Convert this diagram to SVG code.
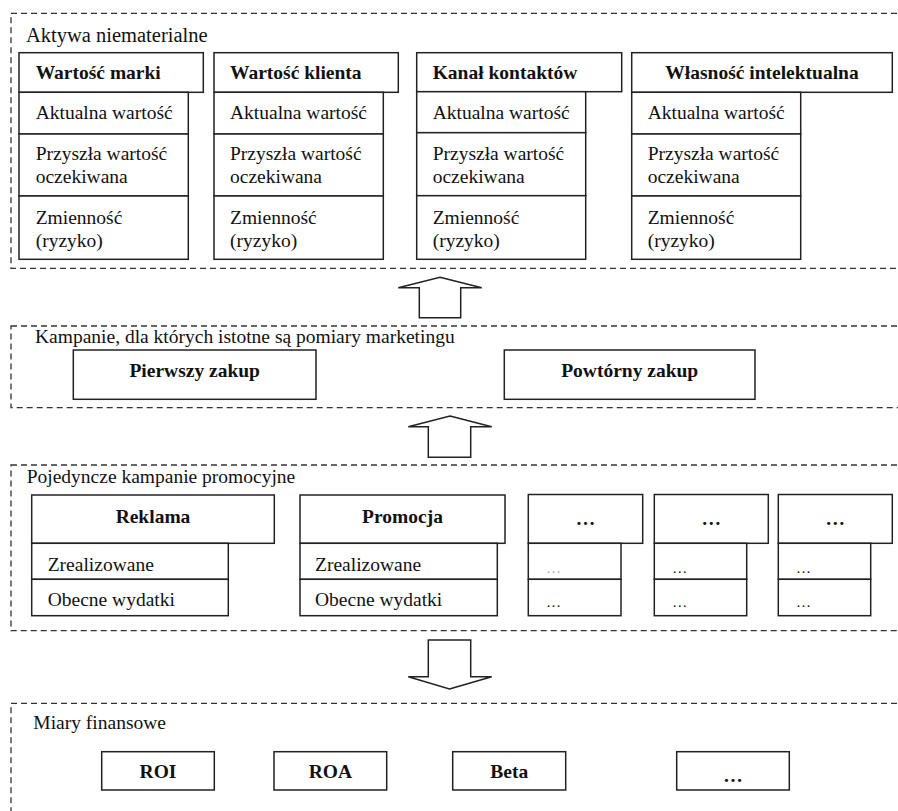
<svg xmlns="http://www.w3.org/2000/svg" width="898" height="811" viewBox="0 0 898 811">
<style>
text{font-family:"Liberation Serif","Times New Roman",serif;font-size:19.5px;fill:#111}
.b{font-weight:bold}
.c{text-anchor:middle}
.sec{fill:none;stroke:#333;stroke-width:1.3;stroke-dasharray:6 4}
.box{fill:#fff;stroke:#222;stroke-width:1.5}
.arr{fill:#fff;stroke:#222;stroke-width:1.5;stroke-linejoin:miter}
.sm{font-size:15px}
</style>
<rect width="898" height="811" fill="#fff"/>

<!-- Sections -->
<g id="sec-aktywa">
<rect class="sec" x="11" y="13.3" width="900" height="255"/>
<text x="26" y="42" style="font-size:20.5px">Aktywa niematerialne</text>
</g>
<g id="sec-kampanie">
<rect class="sec" x="11" y="326" width="900" height="81.7"/>
<text x="35" y="342.7">Kampanie, dla których istotne są pomiary marketingu</text>
</g>
<g id="sec-pojedyncze">
<rect class="sec" x="11" y="465" width="900" height="165.7"/>
<text x="26.7" y="483.3">Pojedyncze kampanie promocyjne</text>
</g>
<g id="sec-miary">
<rect class="sec" x="11" y="703.3" width="900" height="130"/>
<text x="33.3" y="729">Miary finansowe</text>
</g>

<!-- Top nodes -->
<g id="n-marka">
<rect class="box" x="19" y="52.7" width="184.3" height="39.6"/>
<rect class="box" x="19" y="92.3" width="169.3" height="41.7"/>
<rect class="box" x="19" y="134" width="169.3" height="62"/>
<rect class="box" x="19" y="196" width="169.3" height="63.3"/>
<text class="b" x="35.7" y="79">Wartość marki</text>
<text x="35.7" y="119">Aktualna wartość</text>
<text x="35.7" y="160">Przyszła wartość</text>
<text x="35.7" y="183">oczekiwana</text>
<text x="35.7" y="224">Zmienność</text>
<text x="35.7" y="247">(ryzyko)</text>
</g>
<g id="n-klient">
<rect class="box" x="214" y="52.7" width="184.3" height="39.6"/>
<rect class="box" x="214" y="92.3" width="169.3" height="41.7"/>
<rect class="box" x="214" y="134" width="169.3" height="62"/>
<rect class="box" x="214" y="196" width="169.3" height="63.3"/>
<text class="b" x="230" y="79">Wartość klienta</text>
<text x="230" y="119">Aktualna wartość</text>
<text x="230" y="160">Przyszła wartość</text>
<text x="230" y="183">oczekiwana</text>
<text x="230" y="224">Zmienność</text>
<text x="230" y="247">(ryzyko)</text>
</g>
<g id="n-kanal">
<rect class="box" x="416.7" y="52.7" width="205" height="39"/>
<rect class="box" x="416.7" y="91.7" width="169" height="41"/>
<rect class="box" x="416.7" y="132.7" width="169" height="63"/>
<rect class="box" x="416.7" y="195.7" width="169" height="63.6"/>
<text class="b" x="432.7" y="79">Kanał kontaktów</text>
<text x="432.7" y="119">Aktualna wartość</text>
<text x="432.7" y="160">Przyszła wartość</text>
<text x="432.7" y="183">oczekiwana</text>
<text x="432.7" y="224">Zmienność</text>
<text x="432.7" y="247">(ryzyko)</text>
</g>
<g id="n-wlasnosc">
<rect class="box" x="631.7" y="52.7" width="260.6" height="39.6"/>
<rect class="box" x="631.7" y="92.3" width="169" height="41.7"/>
<rect class="box" x="631.7" y="134" width="169" height="62"/>
<rect class="box" x="631.7" y="196" width="169" height="63.3"/>
<text class="b c" x="762" y="79">Własność intelektualna</text>
<text x="647.7" y="119">Aktualna wartość</text>
<text x="647.7" y="160">Przyszła wartość</text>
<text x="647.7" y="183">oczekiwana</text>
<text x="647.7" y="224">Zmienność</text>
<text x="647.7" y="247">(ryzyko)</text>
</g>

<!-- Middle nodes -->
<g id="n-pierwszy">
<rect class="box" x="73.3" y="350" width="242.7" height="49.3"/>
<text class="b c" x="194.7" y="376.7">Pierwszy zakup</text>
</g>
<g id="n-powtorny">
<rect class="box" x="504.3" y="350" width="250.7" height="49.3"/>
<text class="b c" x="629.7" y="376.7">Powtórny zakup</text>
</g>

<!-- Campaign nodes -->
<g id="n-reklama">
<rect class="box" x="31.7" y="495" width="242.6" height="48.3"/>
<rect class="box" x="31.7" y="543.3" width="196.6" height="36"/>
<rect class="box" x="31.7" y="579.3" width="196.6" height="36.4"/>
<text class="b c" x="153" y="522.7">Reklama</text>
<text x="47.7" y="571">Zrealizowane</text>
<text x="47.7" y="606">Obecne wydatki</text>
</g>
<g id="n-promocja">
<rect class="box" x="300" y="495" width="205" height="48.3"/>
<rect class="box" x="300" y="543.3" width="197.3" height="36"/>
<rect class="box" x="300" y="579.3" width="197.3" height="36.4"/>
<text class="b c" x="402.5" y="522.7">Promocja</text>
<text x="315" y="571">Zrealizowane</text>
<text x="315" y="606">Obecne wydatki</text>
</g>
<g id="n-inne1">
<rect class="box" x="528.3" y="494.5" width="114.4" height="48.8"/>
<rect class="box" x="528.3" y="543.3" width="92.7" height="36"/>
<rect class="box" x="528.3" y="579.3" width="92.7" height="36.4"/>
<text class="b c" x="585.5" y="525">…</text>
<text class="sm" x="546" y="573" style="fill:#aaa">…</text>
<text class="sm" x="546" y="606.5">…</text>
</g>
<g id="n-inne2">
<rect class="box" x="654.3" y="494.5" width="114" height="48.8"/>
<rect class="box" x="654.3" y="543.3" width="92.4" height="36"/>
<rect class="box" x="654.3" y="579.3" width="92.4" height="36.4"/>
<text class="b c" x="711.3" y="525">…</text>
<text class="sm" x="672.3" y="573">…</text>
<text class="sm" x="672.3" y="606.5">…</text>
</g>
<g id="n-inne3">
<rect class="box" x="778.3" y="494.5" width="114" height="48.8"/>
<rect class="box" x="778.3" y="543.3" width="92.4" height="36"/>
<rect class="box" x="778.3" y="579.3" width="92.4" height="36.4"/>
<text class="b c" x="835.3" y="525">…</text>
<text class="sm" x="796" y="573">…</text>
<text class="sm" x="796" y="606.5">…</text>
</g>

<!-- Financial nodes -->
<g id="n-roi">
<rect class="box" x="101.7" y="751.7" width="112.6" height="38.3"/>
<text class="b c" x="158" y="777.7">ROI</text>
</g>
<g id="n-roa">
<rect class="box" x="274" y="751.7" width="112.7" height="38.3"/>
<text class="b c" x="330.3" y="777.7">ROA</text>
</g>
<g id="n-beta">
<rect class="box" x="452.7" y="751.7" width="113" height="38.3"/>
<text class="b c" x="509.2" y="777.7">Beta</text>
</g>
<g id="n-inne-fin">
<rect class="box" x="676.7" y="751.7" width="112.6" height="38.3"/>
<text class="b c" x="733" y="782">…</text>
</g>

<!-- Connectors -->
<g id="connectors">
<polygon class="arr" points="440,277.3 481.7,287.8 460.7,287.8 460.7,317.7 419.3,317.7 419.3,287.8 398.3,287.8"/>
<polygon class="arr" points="450,416 491.7,426.7 470.7,426.7 470.7,457.3 428.3,457.3 428.3,426.7 408.3,426.7"/>
<polygon class="arr" points="449.5,689 491.7,676.7 470.7,676.7 470.7,640 428.3,640 428.3,676.7 408.3,676.7"/>
</g>
</svg>
